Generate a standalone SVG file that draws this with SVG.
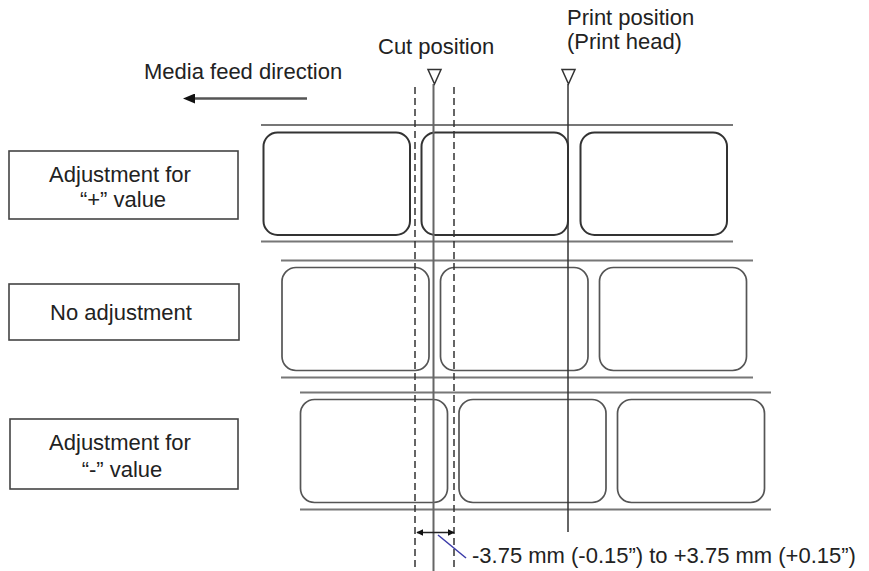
<svg xmlns="http://www.w3.org/2000/svg" width="869" height="571" viewBox="0 0 869 571">
<style>
text{font-family:"Liberation Sans",Arial,sans-serif;font-size:22px;fill:#222}
.box{fill:#fff;stroke:#444;stroke-width:1.6}
.web{stroke:#777;stroke-width:2;fill:none}
.lab1{fill:#fff;stroke:#333;stroke-width:2}
.lab{fill:#fff;stroke:#555;stroke-width:1.7}
.dash{stroke:#333;stroke-width:1.5;stroke-dasharray:7,4;fill:none}
.cut{stroke:#666;stroke-width:2;fill:none}
.prt{stroke:#333;stroke-width:1.5;fill:none}
.tri{fill:#fff;stroke:#333;stroke-width:1.5}
</style>
<defs>
<marker id="ah" viewBox="0 0 12 10" refX="1" refY="5" markerWidth="12" markerHeight="10" markerUnits="userSpaceOnUse" orient="auto">
<path d="M0,0 L12,5 L0,10 Z" fill="#111"/>
</marker>
<marker id="sm" viewBox="0 0 10 10" refX="9" refY="5" markerWidth="7" markerHeight="7" markerUnits="userSpaceOnUse" orient="auto-start-reverse">
<path d="M10,5 L0,0 L0,10 Z" fill="#111"/>
</marker>
</defs>

<g id="left-boxes">
<g id="box-plus">
<rect class="box" x="9" y="151" width="229" height="68"/>
<text x="120" y="182" text-anchor="middle">Adjustment for</text>
<text x="123" y="207" text-anchor="middle">“+” value</text>
</g>
<g id="box-none">
<rect class="box" x="9" y="284" width="230" height="56"/>
<text x="121" y="320" text-anchor="middle">No adjustment</text>
</g>
<g id="box-minus">
<rect class="box" x="10" y="419" width="228" height="70"/>
<text x="120" y="450" text-anchor="middle">Adjustment for</text>
<text x="122" y="477" text-anchor="middle">“-” value</text>
</g>
</g>

<g id="row1">
<line class="web" x1="261" y1="125" x2="733" y2="125"/>
<line class="web" x1="261" y1="241.5" x2="733" y2="241.5"/>
<rect class="lab1" x="263.5" y="132.5" width="146.5" height="102.5" rx="14"/>
<rect class="lab1" x="421.5" y="132.5" width="146.5" height="102.5" rx="14"/>
<rect class="lab1" x="580.5" y="132.5" width="146.5" height="102.5" rx="14"/>
</g>
<g id="row2">
<line class="web" x1="281" y1="260.5" x2="753" y2="260.5"/>
<line class="web" x1="281" y1="377.5" x2="753" y2="377.5"/>
<rect class="lab" x="282" y="267.5" width="147" height="103" rx="14"/>
<rect class="lab" x="440.5" y="267.5" width="147.5" height="103" rx="14"/>
<rect class="lab" x="599.5" y="267.5" width="147" height="103" rx="14"/>
</g>
<g id="row3">
<line class="web" x1="300" y1="392.5" x2="771" y2="392.5"/>
<line class="web" x1="300" y1="509.5" x2="771" y2="509.5"/>
<rect class="lab" x="300.5" y="399.5" width="147" height="103" rx="14"/>
<rect class="lab" x="459" y="399.5" width="147" height="103" rx="14"/>
<rect class="lab" x="617.5" y="399.5" width="147" height="103" rx="14"/>
</g>

<g id="titles">
<text x="378" y="54">Cut position</text>
<text x="567" y="25">Print position</text>
<text x="567" y="49">(Print head)</text>
<text x="144" y="79">Media feed direction</text>
</g>

<g id="connectors">
<line x1="307" y1="98.5" x2="194" y2="98.5" stroke="#555" stroke-width="2.5" marker-end="url(#ah)"/>
<line class="dash" x1="415" y1="87" x2="415" y2="571"/>
<line class="dash" x1="454" y1="87" x2="454" y2="571"/>
<line class="cut" x1="433.5" y1="84" x2="433.5" y2="571"/>
<line class="prt" x1="568" y1="84" x2="568" y2="532"/>
<polygon class="tri" points="428,69.5 441,69.5 434.5,84"/>
<polygon class="tri" points="562,69.5 575,69.5 568.5,84"/>
<line x1="417" y1="532.5" x2="454" y2="532.5" stroke="#222" stroke-width="1.5" marker-start="url(#sm)" marker-end="url(#sm)"/>
<line x1="438" y1="535" x2="466" y2="558" stroke="#3a3aa8" stroke-width="1.5"/>
</g>
<text x="472" y="563">-3.75 mm (-0.15”) to +3.75 mm (+0.15”)</text>
</svg>
